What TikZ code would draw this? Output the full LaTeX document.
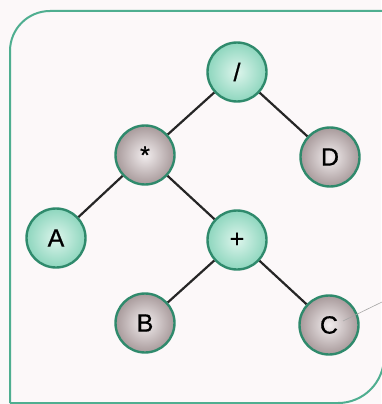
\documentclass[tikz,border=0pt]{standalone}
\usepackage{fontspec}
\setmainfont{Liberation Sans}
\newfontfamily\nodefont{Liberation Sans}[FakeBold=0.7]
\definecolor{bgpaper}{HTML}{FCF8F9}
\definecolor{framegreen}{HTML}{4FAE90}
\definecolor{ringgreen}{HTML}{2F8A6C}
\definecolor{fillgreenin}{HTML}{DDF5EC}
\definecolor{fillgreenout}{HTML}{8ED6BE}
\definecolor{fillgrayin}{HTML}{F2EDEE}
\definecolor{fillgrayout}{HTML}{A89A9B}
\tikzset{
  treenode/.style={circle, minimum size=59pt, inner sep=0pt, line width=2.4pt,
    draw=ringgreen, font=\nodefont\fontsize{25}{25}\selectfont},
  greennode/.style={treenode, inner color=fillgreenin, outer color=fillgreenout},
  graynode/.style={treenode, inner color=fillgrayin, outer color=fillgrayout},
  treeedge/.style={line width=2.2pt, black!85},
  leader/.style={line width=0.6pt, gray!70}
}
\begin{document}
\begin{tikzpicture}[x=1pt,y=-1pt]
\useasboundingbox (0,0) rectangle (381,404);
\fill[bgpaper] (0,0) rectangle (381,404);
\draw[framegreen, line width=2pt]
  (10,403) -- (10,51) arc[start angle=180, end angle=270, radius=40] -- (384,11)
  -- (384,357) arc[start angle=0, end angle=90, radius=46] -- (10,403);
\node[greennode] (div) at (237,72) {/};
\node[graynode] (mul) at (145,155) {*};
\node[graynode] (d) at (330,157) {D};
\node[greennode] (a) at (56,238) {A};
\node[greennode] (plus) at (237,240) {+};
\node[graynode] (b) at (145,323) {B};
\node[graynode] (c) at (329,325) {C};
\coordinate (lead) at (382,302);
\draw[treeedge] (div) -- (mul);
\draw[treeedge] (div) -- (d);
\draw[treeedge] (mul) -- (a);
\draw[treeedge] (mul) -- (plus);
\draw[treeedge] (plus) -- (b);
\draw[treeedge] (plus) -- (c);
\draw[leader] (c.center) ++(14,-4) -- (lead);
\end{tikzpicture}
\end{document}
